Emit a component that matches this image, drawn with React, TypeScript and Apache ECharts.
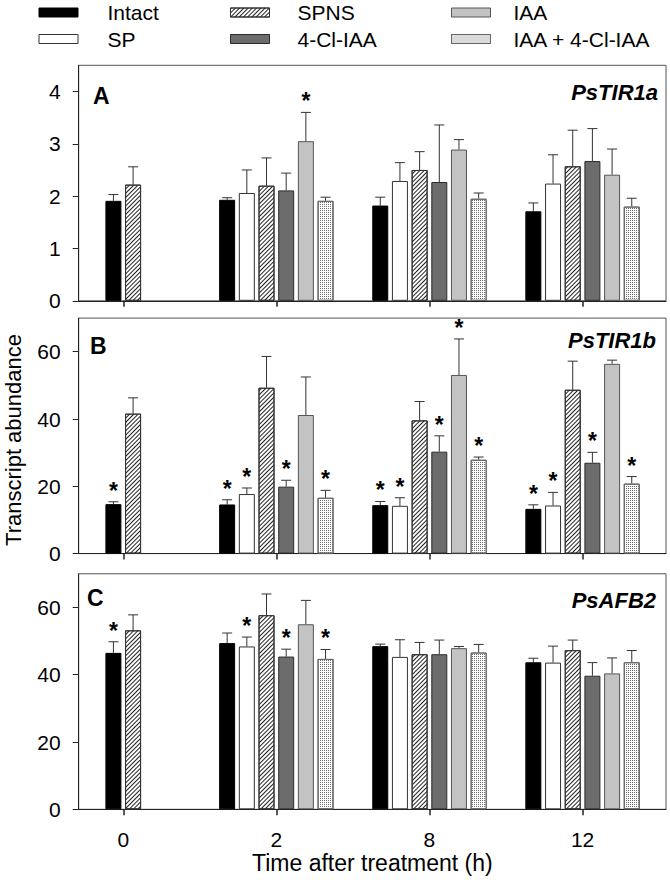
import React, { useEffect, useRef } from 'react';
import * as echarts from 'echarts';

// ---------- data ----------
const times = ['0', '2', '8', '12'];
const treatments = ['Intact', 'SP', 'SPNS', '4-Cl-IAA', 'IAA', 'IAA + 4-Cl-IAA'];
const geneNames = ['PsTIR1a', 'PsTIR1b', 'PsAFB2'];
const panelLetters = ['A', 'B', 'C'];
const yTicksA = [0, 1, 2, 3, 4];
const yTicksBC = [0, 20, 40, 60];
const yMaxes = [4.5, 70, 70];

// rows follow `treatments`, columns follow `times` (null = not measured)
const tir1aMeans = [
  [1.91, 1.93, 1.82, 1.71],
  [null, 2.06, 2.29, 2.24],
  [2.22, 2.2, 2.5, 2.57],
  [null, 2.11, 2.27, 2.67],
  [null, 3.05, 2.89, 2.41],
  [null, 1.91, 1.95, 1.8],
];
const tir1aSE = [
  [0.12, 0.04, 0.16, 0.16],
  [null, 0.44, 0.35, 0.55],
  [0.34, 0.53, 0.35, 0.69],
  [null, 0.33, 1.09, 0.62],
  [null, 0.55, 0.19, 0.49],
  [null, 0.07, 0.11, 0.16],
];
const tir1aSig = [
  [0, 0, 0, 0],
  [0, 0, 0, 0],
  [0, 0, 0, 0],
  [0, 0, 0, 0],
  [0, 1, 0, 0],
  [0, 0, 0, 0],
];

const tir1bMeans = [
  [14.7, 14.6, 14.4, 13.3],
  [null, 17.7, 14.2, 14.3],
  [41.6, 49.3, 39.6, 48.7],
  [null, 19.9, 30.3, 27.0],
  [null, 41.2, 53.1, 56.4],
  [null, 16.6, 27.9, 20.8],
];
const tir1bSE = [
  [0.7, 1.4, 1.1, 1.2],
  [null, 1.8, 2.4, 3.9],
  [4.7, 9.3, 5.6, 8.5],
  [null, 1.9, 4.7, 3.1],
  [null, 11.3, 10.7, 1.1],
  [null, 2.2, 0.8, 2.1],
];
const tir1bSig = [
  [1, 1, 1, 1],
  [0, 1, 1, 1],
  [0, 0, 0, 0],
  [0, 1, 1, 1],
  [0, 0, 1, 0],
  [0, 1, 1, 1],
];

const afb2Means = [
  [46.5, 49.4, 48.5, 43.7],
  [null, 48.4, 45.3, 43.6],
  [53.2, 57.7, 46.1, 47.3],
  [null, 45.4, 46.1, 39.7],
  [null, 55.0, 47.9, 40.4],
  [null, 44.7, 46.6, 43.7],
];
const afb2SE = [
  [3.3, 3.0, 0.6, 1.2],
  [null, 2.8, 5.1, 4.9],
  [4.6, 6.3, 3.5, 3.0],
  [null, 2.2, 4.2, 3.9],
  [null, 7.1, 0.5, 4.6],
  [null, 2.8, 2.4, 3.5],
];
const afb2Sig = [
  [1, 0, 0, 0],
  [0, 1, 0, 0],
  [0, 0, 0, 0],
  [0, 1, 0, 0],
  [0, 0, 0, 0],
  [0, 1, 0, 0],
];

// ---------- layout & style ----------
const FONT = "'Liberation Sans', Arial, Helvetica, sans-serif";
const GRID_LEFT = 78.7;
const GRID_RIGHT = 4;
const GRID_TOPS = [65.3, 318.1, 573.8];
const GRID_H = 235.5;
const X_MIN = -0.291;
const X_MAX = 3.545;
const BAR_W = 16;
const BAR_GAP = 0.23;
const PITCH = BAR_W * (1 + BAR_GAP);
const STAR_LIFT = 11;

const fills = ['#000000', '#ffffff', '#ffffff', '#6c6c6c', '#c3c3c3', '#ffffff'];
const borders = ['#000000', '#333333', '#333333', '#2a2a2a', '#555555', '#666666'];
const hatch = {
  symbol: 'rect',
  symbolSize: 1,
  color: '#222222',
  dashArrayX: [1, 0],
  dashArrayY: [1, 2],
  rotation: -Math.PI / 4,
};
const dots = {
  symbol: 'rect',
  symbolSize: 1,
  color: '#6f6f6f',
  dashArrayX: [1, 1],
  dashArrayY: [1, 1],
  rotation: 0,
};
const decals: any[] = [null, null, hatch, null, null, dots];

const legendSpots = [
  { name: 'Intact', left: 38.5, top: 1.5, pad: 24.5 },
  { name: 'SPNS', left: 230, top: 1.5, pad: 23 },
  { name: 'IAA', left: 451, top: 1.5, pad: 18 },
  { name: 'SP', left: 38.5, top: 28, pad: 24.5 },
  { name: '4-Cl-IAA', left: 230, top: 28, pad: 23 },
  { name: 'IAA + 4-Cl-IAA', left: 451, top: 28, pad: 18 },
];
const letterPos = [
  { x: 93, y: 95.5 },
  { x: 90, y: 345.5 },
  { x: 87, y: 598 },
];
const genePos = [
  { x: 658, y: 92.5 },
  { x: 656, y: 340 },
  { x: 656, y: 600 },
];

function buildOption() {
  const panels = [
    { means: tir1aMeans, se: tir1aSE, sig: tir1aSig, ticks: yTicksA },
    { means: tir1bMeans, se: tir1bSE, sig: tir1bSig, ticks: yTicksBC },
    { means: afb2Means, se: afb2SE, sig: afb2Sig, ticks: yTicksBC },
  ];
  const grid: any[] = [];
  const xAxis: any[] = [];
  const yAxis: any[] = [];
  const series: any[] = [];
  const idx = times.map((_, i) => i);

  panels.forEach((p, pi) => {
    grid.push({
      left: GRID_LEFT,
      right: GRID_RIGHT,
      top: GRID_TOPS[pi],
      height: GRID_H,
      show: true,
      borderColor: '#555555',
      borderWidth: 1,
    });
    xAxis.push({
      type: 'value',
      gridIndex: pi,
      min: X_MIN,
      max: X_MAX,
      axisLine: { show: true, onZero: false, lineStyle: { color: '#222', width: 1 } },
      axisTick: {
        show: true,
        customValues: idx,
        length: 6,
        lineStyle: { color: '#222', width: 1.5 },
      },
      axisLabel: {
        show: pi === 2,
        customValues: idx,
        formatter: (v: number) => times[Math.round(v)] ?? '',
        margin: 20,
        fontSize: 21,
        color: '#000',
        fontFamily: FONT,
      },
      splitLine: { show: false },
    });
    xAxis.push({ type: 'value', gridIndex: pi, min: X_MIN, max: X_MAX, show: false });
    yAxis.push({
      type: 'value',
      gridIndex: pi,
      min: 0,
      max: yMaxes[pi],
      axisLine: { show: true, onZero: false, lineStyle: { color: '#222', width: 1 } },
      axisTick: { show: true, customValues: p.ticks, length: 6, lineStyle: { color: '#222' } },
      axisLabel: {
        customValues: p.ticks,
        margin: 18,
        fontSize: 21,
        color: '#000',
        fontFamily: FONT,
      },
      splitLine: { show: false },
    });

    const mainX = pi * 2;
    const pairX = pi * 2 + 1;
    const errRows: any[] = [];
    const starRows: any[] = [];

    // grouped bars for 2, 8, 12 h
    treatments.forEach((name, s) => {
      const itemStyle: any = { color: fills[s], borderColor: borders[s], borderWidth: 1 };
      if (decals[s]) itemStyle.decal = decals[s];
      const data: any[] = [];
      idx.forEach((i) => {
        const m = p.means[s][i];
        if (i === 0 || m == null) return;
        data.push([i, m]);
        const off = s - (treatments.length - 1) / 2;
        errRows.push([i, m, m + (p.se[s][i] as number), off]);
        if (p.sig[s][i]) starRows.push([i, m + (p.se[s][i] as number), off]);
      });
      series.push({
        type: 'bar',
        name,
        xAxisIndex: mainX,
        yAxisIndex: pi,
        barWidth: BAR_W,
        barGap: `${BAR_GAP * 100}%`,
        itemStyle,
        data,
      });
    });

    // time 0: only the treatments measured then, centred on the tick
    const zeroMembers = treatments.map((_, s) => s).filter((s) => p.means[s][0] != null);
    zeroMembers.forEach((s, k) => {
      const m = p.means[s][0] as number;
      const itemStyle: any = { color: fills[s], borderColor: borders[s], borderWidth: 1 };
      if (decals[s]) itemStyle.decal = decals[s];
      const off = k - (zeroMembers.length - 1) / 2;
      errRows.push([0, m, m + (p.se[s][0] as number), off]);
      if (p.sig[s][0]) starRows.push([0, m + (p.se[s][0] as number), off]);
      series.push({
        type: 'bar',
        name: treatments[s],
        xAxisIndex: pairX,
        yAxisIndex: pi,
        barWidth: BAR_W,
        barGap: `${BAR_GAP * 100}%`,
        itemStyle,
        data: [[0, m]],
      });
    });

    series.push({
      type: 'custom',
      xAxisIndex: mainX,
      yAxisIndex: pi,
      encode: { x: 0, y: [1, 2] },
      silent: true,
      data: errRows,
      renderItem: (_params: any, api: any) => {
        const x = api.value(0);
        const a = api.coord([x, api.value(1)]);
        const b = api.coord([x, api.value(2)]);
        const cx = a[0] + api.value(3) * PITCH;
        const st = { stroke: '#333333', lineWidth: 1 };
        return {
          type: 'group',
          children: [
            { type: 'line', shape: { x1: cx, y1: a[1], x2: cx, y2: b[1] }, style: st },
            { type: 'line', shape: { x1: cx - 5, y1: b[1], x2: cx + 5, y2: b[1] }, style: st },
          ],
        };
      },
    });

    series.push({
      type: 'custom',
      xAxisIndex: mainX,
      yAxisIndex: pi,
      encode: { x: 0, y: 1 },
      silent: true,
      data: starRows,
      renderItem: (_params: any, api: any) => {
        const x = api.value(0);
        const b = api.coord([x, api.value(1)]);
        const cx = b[0] + api.value(2) * PITCH;
        return {
          type: 'text',
          x: cx,
          y: b[1] - STAR_LIFT,
          style: {
            text: '*',
            fontSize: 23,
            fontWeight: 'bold',
            fontFamily: FONT,
            fill: '#000',
            align: 'center',
            verticalAlign: 'middle',
          },
        };
      },
    });
  });

  const legend = legendSpots.map((l) => ({
    data: [l.name],
    left: l.left,
    top: l.top,
    padding: 0,
    icon: 'rect',
    itemWidth: 39,
    itemHeight: 9,
    selectedMode: false,
    itemStyle: { borderWidth: 1 },
    textStyle: {
      fontSize: 21,
      fontFamily: FONT,
      color: '#000',
      lineHeight: 22,
      padding: [0, 0, 0, l.pad],
    },
  }));

  const graphic: any[] = [];
  panelLetters.forEach((t, i) => {
    graphic.push({
      type: 'text',
      x: letterPos[i].x,
      y: letterPos[i].y,
      style: {
        text: t,
        fontSize: 23,
        fontWeight: 'bold',
        fontFamily: FONT,
        fill: '#000',
        align: 'left',
        verticalAlign: 'middle',
      },
    });
    graphic.push({
      type: 'text',
      x: genePos[i].x,
      y: genePos[i].y,
      style: {
        text: geneNames[i],
        fontSize: 22,
        fontWeight: 'bold',
        fontStyle: 'italic',
        fontFamily: FONT,
        fill: '#000',
        align: 'right',
        verticalAlign: 'middle',
      },
    });
  });
  graphic.push({
    type: 'text',
    x: 13.5,
    y: 440,
    rotation: Math.PI / 2,
    style: {
      text: 'Transcript abundance',
      fontSize: 22,
      fontFamily: FONT,
      fill: '#000',
      align: 'center',
      verticalAlign: 'middle',
    },
  });
  graphic.push({
    type: 'text',
    x: GRID_LEFT + (670 - GRID_LEFT - GRID_RIGHT) / 2,
    y: 863,
    style: {
      text: 'Time after treatment (h)',
      fontSize: 23,
      fontFamily: FONT,
      fill: '#000',
      align: 'center',
      verticalAlign: 'middle',
    },
  });

  return {
    animation: false,
    backgroundColor: '#ffffff',
    textStyle: { fontFamily: FONT },
    grid,
    xAxis,
    yAxis,
    legend,
    series,
    graphic,
  };
}

export default function App() {
  const ref = useRef<HTMLDivElement>(null);
  useEffect(() => {
    if (!ref.current) return;
    const chart = echarts.init(ref.current, undefined, { renderer: 'svg' });
    chart.setOption(buildOption() as any);
    return () => chart.dispose();
  }, []);
  return (
    <div
      ref={ref}
      style={{ position: 'fixed', left: 0, top: 0, width: 670, height: 880, background: '#fff' }}
    />
  );
}
